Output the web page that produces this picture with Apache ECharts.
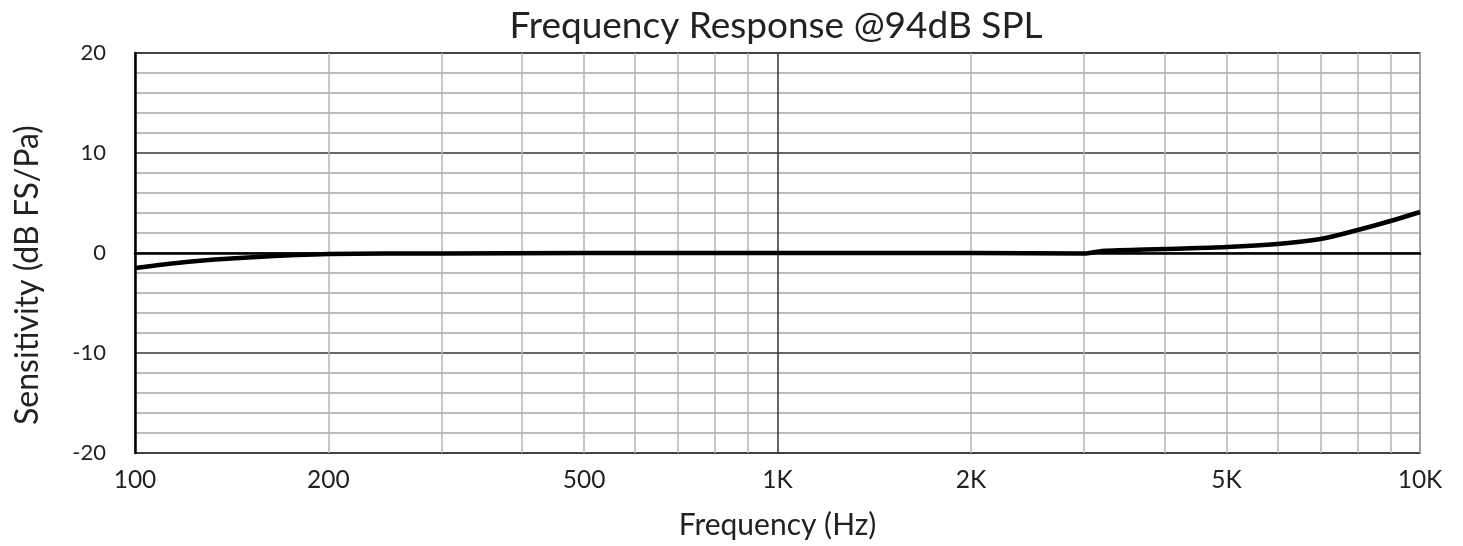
<!DOCTYPE html>
<html>
<head>
<meta charset="utf-8">
<script src="https://cdn.jsdelivr.net/npm/echarts@6/dist/echarts.min.js"></script>
<style>
html,body{margin:0;padding:0;background:#fff;}
#chart{width:1463px;height:546px;}
</style>
</head>
<body>
<div id="chart"></div>
<script>
// Data (frequency in Hz, sensitivity in dB FS/Pa)
const freqHz = [100, 120, 150, 200, 300, 500, 700, 1000, 2000, 3000, 3200, 4000, 5000, 6000, 7000, 8000, 9000, 10000];
const sensitivityDb = [-1.5, -0.9, -0.45, -0.1, -0.05, 0, 0, 0, 0, -0.05, 0.2, 0.4, 0.6, 0.9, 1.4, 2.3, 3.2, 4.1];
// Axis ticks
const xLabelFreqs = [100, 200, 500, 1000, 2000, 5000, 10000];
const xGridFreqs = [100, 200, 300, 400, 500, 600, 700, 800, 900, 1000, 2000, 3000, 4000, 5000, 6000, 7000, 8000, 9000, 10000];
const yTicks = [-20, -10, 0, 10, 20];

const font = 'Lato';
const lg = v => Math.log10(v);
const fmtFreq = v => {
  const f = Math.round(Math.pow(10, v));
  return f >= 1000 ? (f / 1000) + 'K' : String(f);
};
const vColors = xGridFreqs.map(f => f === 1000 ? '#333' : '#b4b4b4');

const chart = echarts.init(document.getElementById('chart'));
chart.setOption({
  animation: false,
  backgroundColor: '#fff',
  title: {
    text: 'Frequency Response @94dB SPL',
    left: 771, top: 3, textAlign: 'center',
    textStyle: { fontFamily: font, fontSize: 37, fontWeight: 'normal', color: '#222' }
  },
  grid: {
    left: 135, right: 43, top: 53, bottom: 93,
    show: true, borderColor: '#444', borderWidth: 1.5
  },
  xAxis: {
    type: 'value', min: lg(100), max: lg(10000),
    name: 'Frequency (Hz)', nameLocation: 'middle', nameGap: 57,
    nameTextStyle: { fontFamily: font, fontSize: 30, color: '#222' },
    axisLine: { show: true, lineStyle: { color: '#000', width: 2.5 } },
    axisTick: { show: false, customValues: xGridFreqs.map(lg) },
    axisLabel: {
      customValues: xLabelFreqs.map(lg),
      formatter: fmtFreq, margin: 15,
      fontFamily: font, fontSize: 24.5, color: '#222'
    },
    splitLine: { show: true, lineStyle: { color: vColors, width: 1.5 } }
  },
  yAxis: {
    type: 'value', min: yTicks[0], max: yTicks[yTicks.length - 1], interval: 10,
    name: 'Sensitivity (dB FS/Pa)', nameLocation: 'middle', nameGap: 91, nameRotate: 90,
    nameTextStyle: { fontFamily: font, fontSize: 32, color: '#222', padding: [0, 44, 0, 0] },
    axisLine: { show: true, lineStyle: { color: '#000', width: 2.5 } },
    axisTick: { show: false },
    axisLabel: { fontFamily: font, fontSize: 22, color: '#222', margin: 29 },
    splitLine: { show: true, lineStyle: { color: '#333', width: 1.5 } },
    minorTick: { show: false, splitNumber: 5 },
    minorSplitLine: { show: true, lineStyle: { color: '#a8a8a8', width: 1.5 } }
  },
  series: [{
    type: 'line',
    data: freqHz.map((f, i) => [lg(f), sensitivityDb[i]]),
    smooth: 0.3,
    showSymbol: false,
    lineStyle: { color: '#000', width: 4.5 },
    z: 5
  }]
});
</script>
</body>
</html>
